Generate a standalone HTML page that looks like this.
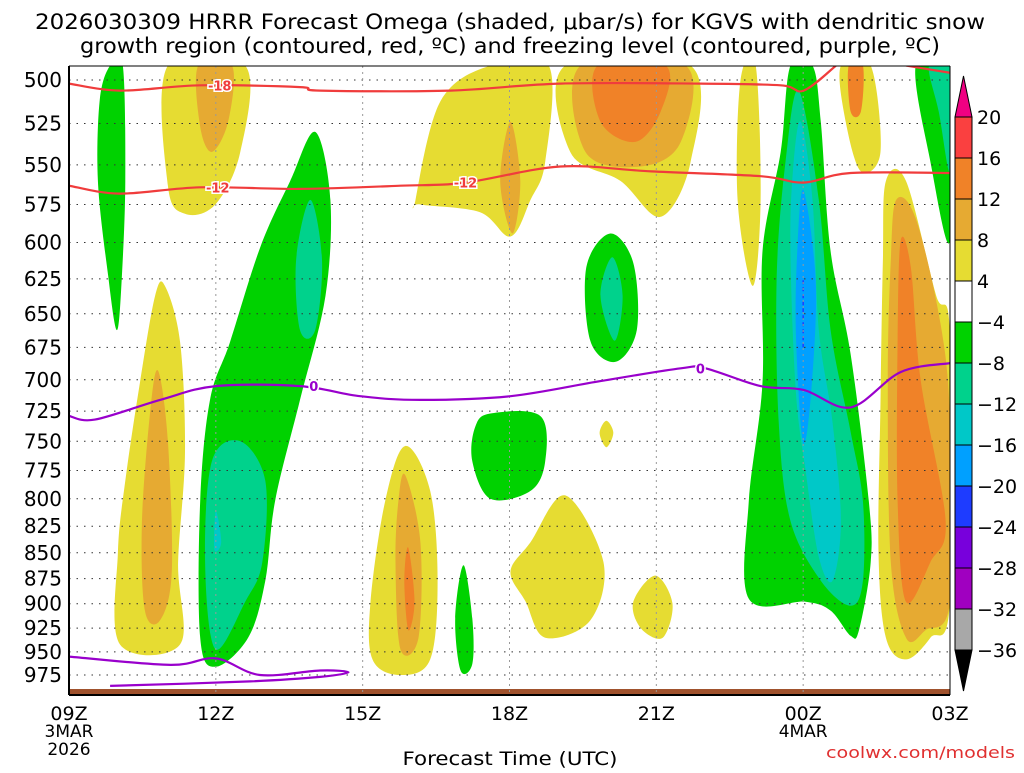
<!DOCTYPE html>
<html><head><meta charset="utf-8"><style>
body{margin:0;background:#fff;width:1024px;height:768px;overflow:hidden}
svg text{font-family:"DejaVu Sans","Liberation Sans",sans-serif}
</style></head><body>
<svg id="chart" width="1024" height="768" xmlns="http://www.w3.org/2000/svg">
<text x="510" y="29" font-size="21" text-anchor="middle" textLength="950" lengthAdjust="spacingAndGlyphs">2026030309 HRRR Forecast Omega (shaded, μbar/s) for KGVS with dendritic snow</text>
<text x="510" y="53" font-size="21" text-anchor="middle" textLength="860" lengthAdjust="spacingAndGlyphs">growth region (contoured, red, ºC) and freezing level (contoured, purple, ºC)</text>
<g id="fills"></g>
<g id="grid"></g>
<g id="lines"></g>
<g id="axes"></g>
<g id="cbar"></g>
<text x="510" y="765" font-size="19" text-anchor="middle" textLength="215" lengthAdjust="spacingAndGlyphs">Forecast Time (UTC)</text>
<text x="1015" y="758" font-size="16" fill="#e03030" text-anchor="end" textLength="189" lengthAdjust="spacingAndGlyphs">coolwx.com/models</text>
</svg>
<script>
const pLevels=[500,525,550,575,600,625,650,675,700,725,750,775,800,825,850,875,900,925,950,975];
const timeHours=[0,3,6,9,12,15,18];
const timeLabels=["09Z","12Z","15Z","18Z","21Z","00Z","03Z"];
const cbarLevels=[20,16,12,8,4,-4,-8,-12,-16,-20,-24,-28,-32,-36];
const cbarColors=["#fa4040","#f08228","#e6aa32","#e6dc32","#ffffff","#00d200","#00d28c","#00c8c8","#00a0ff","#1e3cff","#7800dc","#a000c0","#a8a8a8"];
const C={y:"#e6dc32",g:"#e6aa32",o:"#f08228",G:"#00d200",T:"#00d28c",c:"#00c8c8",b:"#00a0ff"};
const blobs=[
["y",[[2.02,492],[3.6,492],[3.5,542],[2.99,575],[2.37,581],[2.02,563]]],
["g",[[2.64,492],[3.33,492],[3.25,524],[2.92,542],[2.68,527]]],
["y",[[7.08,572],[7.59,512],[8.61,492],[9.8,492],[9.73,548],[9.43,572],[9.02,596],[8.4,580],[7.18,575]]],
["g",[[9.02,524],[9.22,560],[9.06,594],[8.81,560]]],
["y",[[10.14,492],[12.7,492],[12.7,548],[12.09,583],[11.27,560],[10.24,542]]],
["g",[[10.45,492],[12.6,492],[12.5,536],[11.68,551],[10.55,542]]],
["o",[[10.8,492],[12.19,492],[12.09,518],[11.57,536],[10.86,524]]],
["y",[[13.72,500],[14.03,492],[14.13,572],[13.97,630],[13.66,572]]],
["y",[[15.77,492],[16.38,492],[16.58,542],[16.18,554],[15.87,524]]],
["o",[[15.93,492],[16.22,492],[16.18,518],[15.97,518]]],
["y",[[16.69,560],[17.1,560],[17.71,636],[18.0,665],[18,898],[17.6,935],[17.1,958],[16.69,935],[16.54,850],[16.58,717],[16.63,612]]],
["g",[[16.9,572],[17.3,584],[17.81,658],[18,734],[18,898],[17.5,927],[17.1,935],[16.79,859],[16.73,700],[16.79,612]]],
["o",[[16.99,599],[17.2,617],[17.4,700],[17.91,820],[17.6,859],[17.1,898],[16.93,802],[16.93,670]]],
["G",[[17.3,492],[18,492],[18,599],[17.6,548]]],
["T",[[17.57,492],[18,492],[18,554],[17.77,518]]],
["y",[[1.96,630],[2.27,671],[2.37,759],[2.23,859],[2.27,942],[1.04,942],[1.0,850],[1.15,784],[1.45,702],[1.76,637]]],
["g",[[1.82,693],[2.02,750],[2.1,868],[1.86,917],[1.55,907],[1.49,822],[1.66,725]]],
["y",[[6.87,754],[7.38,793],[7.53,877],[7.38,958],[6.77,975],[6.2,958],[6.16,898],[6.46,802]]],
["g",[[6.87,779],[7.18,840],[7.14,935],[6.77,947],[6.67,859],[6.73,802]]],
["o",[[6.93,845],[7.06,898],[6.93,927],[6.85,877]]],
["y",[[10.14,797],[10.92,859],[10.65,917],[9.73,935],[9.33,898],[9.02,868],[9.43,840]]],
["y",[[10.98,733],[11.12,743],[10.98,755],[10.84,743]]],
["y",[[11.98,872],[12.33,900],[12.13,935],[11.68,925],[11.53,898]]],
["G",[[0.84,492],[1.1,492],[1.15,560],[1.08,623],[0.98,662],[0.8,623],[0.59,560],[0.63,511]]],
["G",[[5.03,530],[5.34,572],[5.24,637],[4.72,716],[4.21,802],[4.01,877],[3.66,935],[2.99,966],[2.68,935],[2.68,802],[2.88,716],[3.29,671],[3.91,603],[4.52,560]]],
["T",[[4.93,572],[5.17,612],[5.03,662],[4.72,662],[4.64,612]]],
["T",[[3.5,750],[4.01,784],[3.95,859],[3.6,898],[2.99,947],[2.78,859],[2.92,767]]],
["c",[[3.0,811],[3.11,840],[2.97,847]]],
["G",[[11.06,594],[11.53,614],[11.6,662],[11.17,686],[10.65,670],[10.57,617]]],
["T",[[11.1,610],[11.31,637],[11.15,670],[10.86,637]]],
["G",[[8.61,727],[9.63,729],[9.73,767],[9.43,793],[8.61,800],[8.24,767],[8.3,738]]],
["G",[[8.06,862],[8.24,915],[8.24,963],[8.0,970],[7.89,915]]],
["G",[[14.74,492],[15.19,492],[15.36,524],[15.56,606],[15.97,680],[16.34,802],[16.38,859],[16.14,927],[15.97,933],[15.56,907],[15.05,898],[13.89,895],[13.89,802],[14.17,702],[14.17,606],[14.54,542]]],
["T",[[14.91,506],[15.32,572],[15.56,662],[15.97,742],[16.22,802],[16.22,877],[15.97,902],[15.36,877],[14.74,820],[14.5,734],[14.46,623],[14.64,548]]],
["c",[[14.95,524],[15.19,572],[15.32,662],[15.6,734],[15.77,820],[15.6,877],[15.32,854],[15.05,775],[14.85,709],[14.74,606],[14.79,554]]],
["b",[[15.01,566],[15.26,630],[15.15,716],[14.99,750],[14.85,662],[14.89,599]]]
];
const redTopH=[0,1.04,2.68,4.72,5.13,7.79,10.04,12.9,14.54,15.01,15.67];
const redTopP=[502,506,503,504,506,506,502,502,503,506,492];
const redTop2H=[17.1,18];
const redTop2P=[492,496];
const red12H=[0,1.04,2.68,4.72,6.77,8.1,10.04,11.9,14.13,15.01,15.97,18];
const red12P=[563,568,564,565,563,561,551,554,557,561,555,555];
const frzH=[0,0.53,1.86,3.0,4.72,5.95,7.18,9.02,10.86,12.5,13.0,14.13,15.01,15.97,16.99,18];
const frzP=[729,732,716,705,705,713,716,713,701,691,691,705,708,722,694,687];
const frzLowH=[0,2.07,3.0,3.9,5.13,5.71,5.13,3.7,0.84];
const frzLowP=[955,964,957,975,970,972,977,982,987];

const X0=69,X1=950,YT=66,YB=695;
const x=h=>X0+h*(X1-X0)/18;
const y=p=>80+891*Math.log(p/500);
const NS="http://www.w3.org/2000/svg";
function mk(tag,attrs,parent){const e=document.createElementNS(NS,tag);for(const k in attrs)e.setAttribute(k,attrs[k]);parent.appendChild(e);return e;}
function smooth(pts,closed){
  const n=pts.length;let d="M"+pts[0][0].toFixed(1)+","+pts[0][1].toFixed(1);
  const get=i=>closed?pts[(i+n)%n]:pts[Math.max(0,Math.min(n-1,i))];
  const segs=closed?n:n-1;
  for(let i=0;i<segs;i++){const p0=get(i-1),p1=get(i),p2=get(i+1),p3=get(i+2);
    const c1=[p1[0]+(p2[0]-p0[0])/6,p1[1]+(p2[1]-p0[1])/6],c2=[p2[0]-(p3[0]-p1[0])/6,p2[1]-(p3[1]-p1[1])/6];
    d+=" C"+c1.map(v=>v.toFixed(1))+" "+c2.map(v=>v.toFixed(1))+" "+p2[0].toFixed(1)+","+p2[1].toFixed(1);}
  return d+(closed?"Z":"");
}
const fills=document.getElementById('fills');
const cp=mk('clipPath',{id:'pc'},fills);
mk('rect',{x:X0,y:YT,width:X1-X0,height:YB-YT},cp);
const fg=mk('g',{'clip-path':'url(#pc)'},fills);
blobs.forEach(b=>{
  const el=mk('path',{d:smooth(b[1].map(q=>[x(q[0]),y(q[1])]),true),fill:C[b[0]]},fg);
  
  
});
const dl=mk('line',{x1:x(15),x2:x(15),y1:y(626),y2:y(675),stroke:"#1e3cff","stroke-width":1.5,"stroke-dasharray":"4,3"},fg);


const tr=mk('rect',{x:X0,y:689,width:X1-X0,height:6,fill:"#a0522d"},fg);


const grid=document.getElementById('grid');
pLevels.forEach(p=>{const l=mk('line',{x1:X0,x2:X1,y1:y(p),y2:y(p),stroke:"#333","stroke-width":1,"stroke-dasharray":"1.5,6"},grid);
  
  });
timeHours.slice(1,-1).forEach(h=>{const l=mk('line',{x1:x(h),x2:x(h),y1:YT,y2:YB,stroke:"#999","stroke-width":1,"stroke-dasharray":"2,4"},grid);
  
  });
const lines=document.getElementById('lines');
const lg=mk('g',{'clip-path':'url(#pc)'},lines);
function drawLine(H,P,col,name){const el=mk('path',{d:smooth(H.map((h,i)=>[x(h),y(P[i])]),false),fill:"none",stroke:col,"stroke-width":2.2},lg);
  
  }
drawLine(redTopH,redTopP,"#f03c3c","contour-minus18");
drawLine(redTop2H,redTop2P,"#f03c3c","contour-minus18-east");
drawLine(red12H,red12P,"#f03c3c","contour-minus12");
drawLine(frzH,frzP,"#9900cc","freezing-level");
drawLine(frzLowH,frzLowP,"#9900cc","freezing-level-low");
function lab(t,h,p,col){
  const tx=mk('text',{x:x(h),y:y(p)+5,"font-size":13,"font-weight":"bold",fill:col,"text-anchor":"middle",stroke:"#fff","stroke-width":3,"paint-order":"stroke"},lines);tx.textContent=t;
  
  }
lab("-18",3.08,503,"#f03c3c");lab("-12",3.04,564,"#f03c3c");lab("-12",8.1,561,"#f03c3c");
lab("0",5.0,705,"#9900cc");lab("0",12.9,691,"#9900cc");
const ax=document.getElementById('axes');
mk('line',{x1:X0,x2:X0,y1:YT,y2:YB,stroke:"#000","stroke-width":2},ax);
mk('line',{x1:X0,x2:X1,y1:YB,y2:YB,stroke:"#000","stroke-width":2},ax);
mk('line',{x1:X0,x2:X1,y1:YT,y2:YT,stroke:"#000","stroke-width":1},ax);
mk('line',{x1:X1,x2:X1,y1:YT,y2:YB,stroke:"#000","stroke-width":1},ax);
pLevels.forEach(p=>{const t=mk('text',{x:62,y:y(p)+7,"font-size":20,"text-anchor":"end"},ax);t.textContent=p;
  
  });
timeHours.forEach((h,i)=>{const t=mk('text',{x:x(h),y:720,"font-size":19,"text-anchor":"middle"},ax);t.textContent=timeLabels[i];
  
  });
[["3MAR",0,737],["2026",0,755],["4MAR",15,737]].forEach(a=>{const t=mk('text',{x:x(a[1]),y:a[2],"font-size":17,"text-anchor":"middle"},ax);t.textContent=a[0];
  
  });
const cb=document.getElementById('cbar');
const cy=i=>117+i*41.0, cx0=955,cx1=972;
cbarColors.forEach((c,i)=>{const r=mk('rect',{x:cx0,y:cy(i),width:cx1-cx0,height:41,fill:c,stroke:"#000","stroke-width":1},cb);
  
  });
mk('polygon',{points:`${cx0},117 ${cx1},117 ${(cx0+cx1)/2},76`,fill:"#f00082",stroke:"#000"},cb);
mk('polygon',{points:`${cx0},${cy(13)} ${cx1},${cy(13)} ${(cx0+cx1)/2},691`,fill:"#000",stroke:"#000"},cb);
cbarLevels.forEach((v,i)=>{const t=mk('text',{x:977,y:cy(i)+7,"font-size":19},cb);t.textContent=v<0?"−"+(-v):v;
  
  });
</script>
</body></html>
